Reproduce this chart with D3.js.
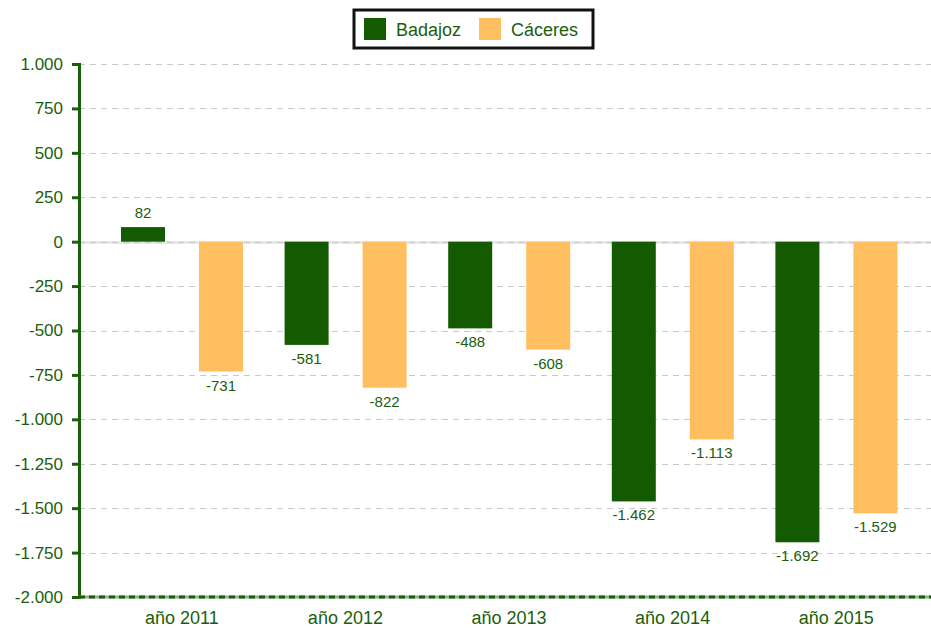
<!DOCTYPE html>
<html>
<head>
<meta charset="utf-8">
<script src="https://cdn.jsdelivr.net/npm/d3@7"></script>
<style>
  body { margin: 0; background: #fff; }
  text { font-family: "Liberation Sans", Arial, sans-serif; }
</style>
</head>
<body>
<div id="chart"></div>
<script>
var years = ["año 2011", "año 2012", "año 2013", "año 2014", "año 2015"];
var provinces = ["Badajoz", "Cáceres"];
var badajoz = [82, -581, -488, -1462, -1692];
var caceres = [-731, -822, -608, -1113, -1529];
var yTicks = [1000, 750, 500, 250, 0, -250, -500, -750, -1000, -1250, -1500, -1750, -2000];

var colors = { "Badajoz": "#145a00", "Cáceres": "#ffbf60" };
var textColor = "#1b5e0a";

var width = 931, height = 628;
var plotLeft = 79, plotRight = 931, plotTop = 64, plotBottom = 597;

var svg = d3.select("#chart").append("svg")
    .attr("width", width)
    .attr("height", height);

// spanish style: dot for thousands, plain hyphen for minus
var fmt = function (v) {
    return d3.format(",")(v).replace(/,/g, ".").replace("\u2212", "-");
};

var y = d3.scaleLinear().domain([-2000, 1000]).range([plotBottom, plotTop]);
var x = d3.scaleBand().domain(years).range([100, 918]);
var xSub = d3.scaleBand().domain(provinces)
    .range([21, 143])
    .paddingInner(0.436);

// zero line highlight
svg.append("line")
    .attr("x1", plotLeft).attr("x2", plotRight)
    .attr("y1", Math.round(y(0)) + 0.5).attr("y2", Math.round(y(0)) + 0.5)
    .attr("stroke", "#e8e8e8").attr("stroke-width", 3);

// grid lines
svg.append("g").selectAll("line")
    .data(yTicks.filter(function (d) { return d !== -2000; }))
    .enter().append("line")
    .attr("x1", plotLeft).attr("x2", plotRight)
    .attr("y1", function (d) { return Math.round(y(d)) + 0.5; })
    .attr("y2", function (d) { return Math.round(y(d)) + 0.5; })
    .attr("stroke", "#c8c8c8")
    .attr("stroke-dasharray", "6,5");

// bars
var rows = years.map(function (yr, i) {
    return { year: yr, values: [
        { key: "Badajoz", value: badajoz[i] },
        { key: "Cáceres", value: caceres[i] }
    ] };
});

var groups = svg.append("g").selectAll("g")
    .data(rows)
    .enter().append("g")
    .attr("transform", function (d) { return "translate(" + x(d.year) + ",0)"; });

groups.selectAll("rect")
    .data(function (d) { return d.values; })
    .enter().append("rect")
    .attr("x", function (d) { return xSub(d.key); })
    .attr("width", xSub.bandwidth())
    .attr("y", function (d) { return y(Math.max(0, d.value)); })
    .attr("height", function (d) { return Math.abs(y(d.value) - y(0)); })
    .attr("fill", function (d) { return colors[d.key]; });

groups.selectAll("text")
    .data(function (d) { return d.values; })
    .enter().append("text")
    .attr("x", function (d) { return xSub(d.key) + xSub.bandwidth() / 2; })
    .attr("y", function (d) { return d.value >= 0 ? y(d.value) - 9 : y(d.value) + 19; })
    .attr("text-anchor", "middle")
    .attr("font-size", "15px")
    .attr("fill", textColor)
    .text(function (d) { return fmt(d.value); });

// y axis
var yAxis = svg.append("g")
    .attr("transform", "translate(" + plotLeft + ",0)")
    .call(d3.axisLeft(y).tickValues(yTicks).tickFormat(fmt).tickSize(7).tickPadding(9));
yAxis.select(".domain").attr("stroke", textColor).attr("stroke-width", 3);
yAxis.selectAll(".tick line").attr("stroke", textColor).attr("stroke-width", 3);
yAxis.selectAll(".tick text").attr("fill", textColor)
    .attr("font-size", "17px")
    .style("font-family", "'Liberation Sans', Arial, sans-serif");

// x axis
var xAxis = svg.append("g")
    .attr("transform", "translate(0," + plotBottom + ")")
    .call(d3.axisBottom(x).tickSize(0).tickPadding(14));
xAxis.select(".domain").remove();
xAxis.selectAll(".tick text").attr("fill", textColor)
    .attr("font-size", "18px")
    .style("font-family", "'Liberation Sans', Arial, sans-serif");
svg.append("line")
    .attr("x1", plotLeft).attr("x2", plotRight)
    .attr("y1", plotBottom).attr("y2", plotBottom)
    .attr("stroke", "#8db38d").attr("stroke-width", 3);
svg.append("line")
    .attr("x1", plotLeft).attr("x2", plotRight)
    .attr("y1", plotBottom).attr("y2", plotBottom)
    .attr("stroke", textColor).attr("stroke-width", 3)
    .attr("stroke-dasharray", "6,4");

// legend
var legend = svg.append("g");
legend.append("rect")
    .attr("x", 354).attr("y", 10)
    .attr("width", 239).attr("height", 38)
    .attr("fill", "#fff")
    .attr("stroke", "#111").attr("stroke-width", 3);
var legendX = [364, 479];
provinces.forEach(function (p, i) {
    legend.append("rect")
        .attr("x", legendX[i]).attr("y", 18)
        .attr("width", 22).attr("height", 22)
        .attr("fill", colors[p]);
    legend.append("text")
        .attr("x", legendX[i] + 32).attr("y", 36)
        .attr("font-size", "18px")
        .attr("fill", textColor)
        .text(p);
});
</script>
</body>
</html>
